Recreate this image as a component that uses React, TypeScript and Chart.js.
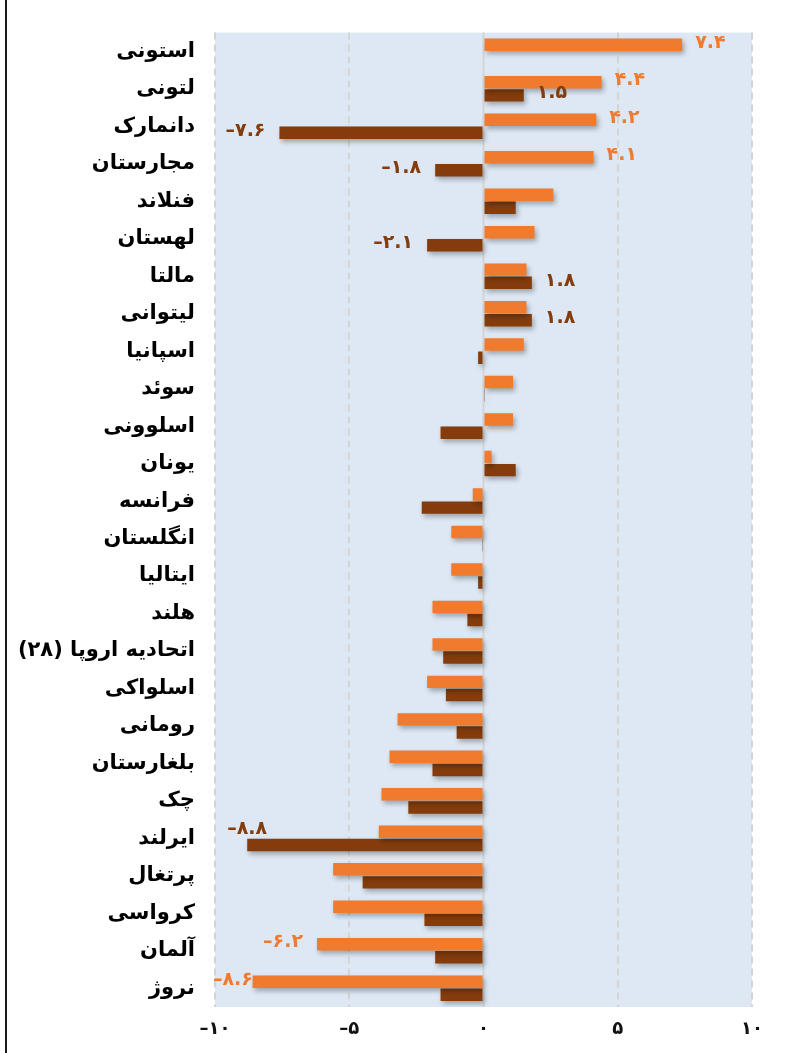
import React, { useEffect, useRef } from "react";
import { Chart, registerables } from "chart.js";

Chart.register(...registerables);

const categories = [
  "استونی", "لتونی", "دانمارک", "مجارستان", "فنلاند", "لهستان", "مالتا", "لیتوانی",
  "اسپانیا", "سوئد", "اسلوونی", "یونان", "فرانسه", "انگلستان", "ایتالیا", "هلند",
  "اتحادیه اروپا (۲۸)", "اسلواکی", "رومانی", "بلغارستان", "چک", "ایرلند", "پرتغال",
  "کرواسی", "آلمان", "نروژ",
];

const seriesA = [
  7.4, 4.4, 4.2, 4.1, 2.6, 1.9, 1.6, 1.6, 1.5, 1.1, 1.1, 0.3, -0.4, -1.2, -1.2, -1.9,
  -1.9, -2.1, -3.2, -3.5, -3.8, -3.9, -5.6, -5.6, -6.2, -8.6,
];

const seriesB: (number | null)[] = [
  null, 1.5, -7.6, -1.8, 1.2, -2.1, 1.8, 1.8, -0.2, 0.05, -1.6, 1.2, -2.3, -0.05, -0.2, -0.6,
  -1.5, -1.4, -1.0, -1.9, -2.8, -8.8, -4.5, -2.2, -1.8, -1.6,
];

const labeledA = [0, 1, 2, 3, 24, 25];
const labeledB = [1, 2, 3, 5, 6, 7, 21];

const xTicks = [-10, -5, 0, 5, 10];

const ORANGE = "#F07B2F";
const BROWN = "#843C0C";
const PLOT_BG = "#DDE8F4";

const fa = (s: string) => s.replace(/\d/g, (d) => "۰۱۲۳۴۵۶۷۸۹"[Number(d)]);
const fmt = (v: number) => (v < 0 ? "–" : "") + fa(Math.abs(v).toFixed(1));

export default function App() {
  const ref = useRef<HTMLCanvasElement>(null);

  useEffect(() => {
    if (!ref.current) return;

    const bgPlugin = {
      id: "plotBg",
      beforeDraw(chart: any) {
        const { ctx, chartArea: a } = chart;
        ctx.save();
        ctx.fillStyle = PLOT_BG;
        ctx.fillRect(a.left, a.top, a.right - a.left, a.bottom - a.top);
        ctx.restore();
      },
      beforeDatasetsDraw(chart: any) {
        const { ctx, chartArea: a, scales } = chart;
        const x0 = scales.x.getPixelForValue(0);
        ctx.save();
        ctx.strokeStyle = "#D4D4D4";
        ctx.lineWidth = 2;
        ctx.beginPath();
        ctx.moveTo(x0, a.top);
        ctx.lineTo(x0, a.bottom);
        ctx.stroke();
        ctx.restore();
        ctx.save();
        ctx.shadowColor = "rgba(0,0,0,0.3)";
        ctx.shadowBlur = 5;
        ctx.shadowOffsetX = 2;
        ctx.shadowOffsetY = 3;
      },
      afterDatasetsDraw(chart: any) {
        const { ctx, chartArea: a } = chart;
        ctx.restore();
        ctx.save();
        ctx.font = "bold 19px 'DejaVu Sans'";
        ctx.textBaseline = "middle";
        const sets: [number, number[], string][] = [
          [0, labeledA, ORANGE],
          [1, labeledB, BROWN],
        ];
        for (const [di, idxs, color] of sets) {
          const meta = chart.getDatasetMeta(di);
          const vals = chart.data.datasets[di].data;
          for (const i of idxs) {
            const v = vals[i] as number;
            const bar = meta.data[i] as any;
            const txt = fmt(v);
            const w = ctx.measureText(txt).width;
            ctx.fillStyle = color;
            const y = bar.y - 2;
            if (v >= 0) {
              ctx.textAlign = "left";
              ctx.fillText(txt, bar.x + 13, y);
            } else {
              const right = bar.x - 14;
              if (right - w < a.left) {
                const left = a.left - 2;
                if (left + w > bar.x + 3) {
                  ctx.textAlign = "center";
                  ctx.fillText(txt, bar.x, y - 14);
                  continue;
                }
                ctx.textAlign = "left";
                ctx.fillText(txt, left, y);
              } else {
                ctx.textAlign = "right";
                ctx.fillText(txt, right, y);
              }
            }
          }
        }
        ctx.restore();
      },
    };

    const chart = new Chart(ref.current, {
      type: "bar",
      data: {
        labels: categories.map((c) => "\u200F" + c + "\u200F"),
        datasets: [
          {
            data: seriesA,
            backgroundColor: ORANGE,
            barPercentage: 0.95,
            categoryPercentage: 0.7,
          },
          {
            data: seriesB as any,
            backgroundColor: BROWN,
            barPercentage: 0.95,
            categoryPercentage: 0.7,
          },
        ],
      },
      options: {
        indexAxis: "y",
        animation: false,
        responsive: false,
        maintainAspectRatio: false,
        layout: { padding: { top: 28, right: 33, left: 0, bottom: 0 } },
        plugins: { legend: { display: false }, tooltip: { enabled: false } },
        scales: {
          x: {
            min: -10,
            max: 10,
            afterBuildTicks: (s: any) => {
              s.ticks = xTicks.map((v) => ({ value: v }));
            },
            afterFit: (s: any) => {
              s.height = 46;
            },
            grid: {
              drawTicks: false,
              lineWidth: 2,
              color: (c: any) => (c.tick && c.tick.value === 0 ? "rgba(0,0,0,0)" : "#D3D3D3"),
            },
            border: { display: false, dash: [7, 5] },
            ticks: {
              padding: 12,
              color: "#111",
              font: { family: "'DejaVu Sans'", size: 18, weight: "bold" },
              callback: (v: any) => fmt(Number(v)).replace(".۰", ""),
            },
          },
          y: {
            afterFit: (s: any) => {
              s.width = 215;
            },
            grid: { display: false, drawTicks: false },
            border: { display: false },
            ticks: {
              padding: 20,
              color: "#000",
              font: { family: "'DejaVu Sans'", size: 21, weight: "bold" },
            },
          },
        },
      },
      plugins: [bgPlugin],
    });
    return () => chart.destroy();
  }, []);

  return (
    <div
      style={{
        position: "fixed",
        left: 0,
        top: 0,
        width: 785,
        height: 1053,
        background: "#fff",
      }}
    >
      <div
        style={{
          position: "absolute",
          left: 5,
          top: 0,
          width: 2,
          height: 1053,
          background: "#1a1a1a",
        }}
      />
      <canvas ref={ref} width={785} height={1053} style={{ position: "absolute", left: 0, top: 0 }} />
    </div>
  );
}
